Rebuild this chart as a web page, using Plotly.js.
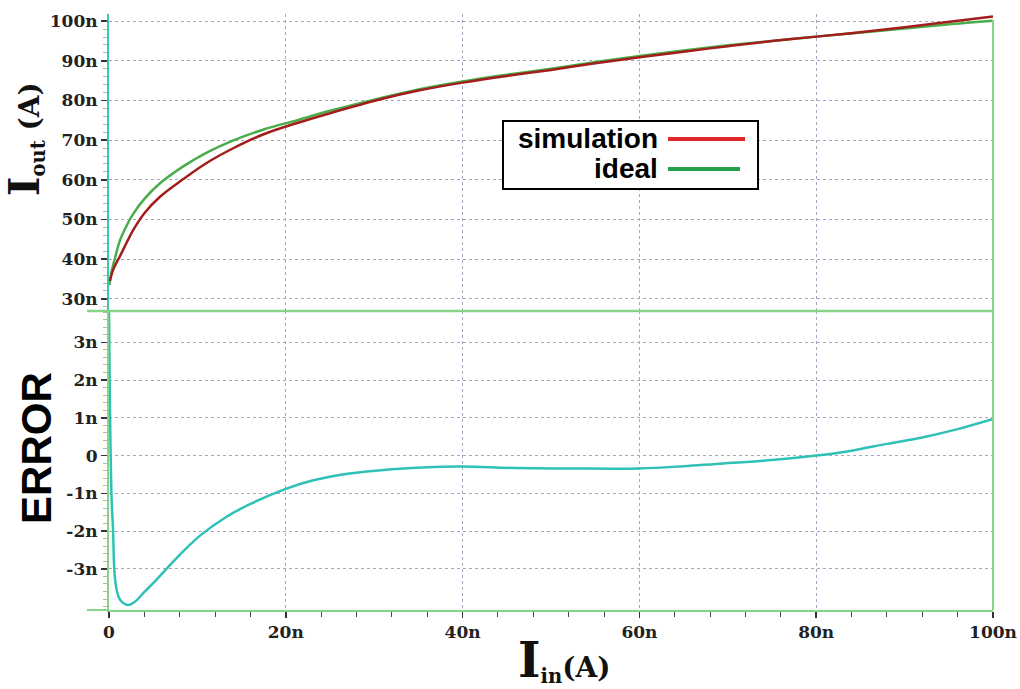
<!DOCTYPE html>
<html>
<head>
<meta charset="utf-8">
<script src="https://cdn.plot.ly/plotly-3.0.1.min.js"></script>
<style>html,body{margin:0;padding:0;background:#fff;}#chart{width:1020px;height:689px;}</style>
</head>
<body>
<div id="chart"></div>
<script>
// Values in nA
const idealX = [0.05, 0.3, 0.7, 1.25, 2, 2.7, 4, 5.8, 8.4, 11, 14, 17.5, 21.4, 25, 30.7, 35, 40, 45, 50, 55, 60, 65, 70, 75, 80, 87, 93, 100];
const idealY = [33.5, 37, 40.5, 44.8, 48.5, 51.3, 55.2, 59.2, 63.4, 66.8, 69.9, 72.7, 75.1, 77.4, 80.6, 82.8, 84.8, 86.5, 88.0, 89.7, 91.2, 92.6, 93.9, 95.0, 96.1, 97.5, 98.8, 100.1];
const simX = [0.1, 0.5, 1.25, 2, 2.7, 4, 5.8, 8.4, 11, 14, 17.5, 21.4, 25, 30.7, 35, 40, 45, 50, 55, 60, 65, 70, 75, 80, 87, 93, 100];
const simY = [34.5, 37.5, 40.8, 44.2, 47.2, 51.6, 55.8, 60.2, 64.2, 67.9, 71.5, 74.4, 76.8, 80.3, 82.5, 84.5, 86.2, 87.7, 89.4, 90.9, 92.3, 93.7, 95.0, 96.1, 97.7, 99.3, 101.2];
const errX = [0, 0.1, 0.3, 0.45, 0.7, 1.2, 2.15, 3, 3.85, 5, 6.5, 7.7, 10.3, 13.3, 16, 20, 23, 27, 32, 36.7, 40, 46, 52, 60, 65, 68.7, 75, 80, 84, 88, 92, 96, 100];
const errY = [3.8, 1.5, -1.2, -1.9, -3.3, -3.8, -3.96, -3.86, -3.65, -3.38, -3.0, -2.7, -2.12, -1.62, -1.28, -0.88, -0.66, -0.48, -0.36, -0.3, -0.29, -0.33, -0.34, -0.34, -0.28, -0.22, -0.12, 0, 0.13, 0.31, 0.48, 0.7, 0.97];

const xTickVals = [0, 20, 40, 60, 80, 100];
const xTickText = ['0', '20n', '40n', '60n', '80n', '100n'];
const topTickVals = [30, 40, 50, 60, 70, 80, 90, 100];
const topTickText = ['30n', '40n', '50n', '60n', '70n', '80n', '90n', '100n'];
const botTickVals = [-3, -2, -1, 0, 1, 2, 3];
const botTickText = ['-3n', '-2n', '-1n', '0', '1n', '2n', '3n'];
const legendNames = ['simulation', 'ideal'];

const tickFont = {family: 'DejaVu Serif', size: 17, color: '#222', weight: 'bold'};
const gridColor = '#a6a6c2';
const lightGreen = '#86d486';
const teal = '#3cc4b4';

const traces = [
  {x: idealX, y: idealY, xaxis: 'x', yaxis: 'y', mode: 'lines', name: legendNames[1],
   line: {color: '#4aad4a', width: 2.5, shape: 'spline', smoothing: 1}},
  {x: simX, y: simY, xaxis: 'x', yaxis: 'y', mode: 'lines', name: legendNames[0],
   line: {color: '#a31d1d', width: 2.5, shape: 'spline', smoothing: 1}},
  {x: errX, y: errY, xaxis: 'x2', yaxis: 'y2', mode: 'lines', name: 'error',
   line: {color: '#2fc1b8', width: 2.5, shape: 'spline', smoothing: 1}}
];

const dom = 0.5017;
const layout = {
  width: 1020, height: 689,
  margin: {l: 109, r: 27, t: 14, b: 79},
  paper_bgcolor: '#fff', plot_bgcolor: '#fff',
  showlegend: false,
  xaxis: {anchor: 'y', domain: [0, 1], range: [0, 100], matches: 'x2',
    tickvals: xTickVals, showticklabels: false, ticks: '',
    showgrid: true, gridcolor: gridColor, griddash: 'dot', gridwidth: 1,
    zeroline: false, showline: false},
  xaxis2: {anchor: 'y2', domain: [0, 1], range: [0, 100],
    tickvals: xTickVals, ticktext: xTickText, tickfont: tickFont,
    ticks: 'outside', ticklen: 6, tickwidth: 1.5, tickcolor: '#333',
    minor: {dtick: 4, tick0: 0, ticks: 'outside', ticklen: 5, tickcolor: '#444', tickwidth: 1, showgrid: false},
    showgrid: true, gridcolor: gridColor, griddash: 'dot', gridwidth: 1,
    zeroline: false, showline: true, linecolor: lightGreen, linewidth: 2},
  yaxis: {domain: [dom, 1], range: [26.95, 101.8], anchor: 'x',
    tickvals: topTickVals, ticktext: topTickText, tickfont: tickFont,
    ticks: 'outside', ticklen: 6, tickwidth: 1.5, tickcolor: '#333',
    minor: {dtick: 2, tick0: 0, ticks: 'outside', ticklen: 4, tickcolor: '#9cc89c', tickwidth: 1, showgrid: false},
    showgrid: true, gridcolor: gridColor, griddash: 'dot', gridwidth: 1,
    zeroline: false, showline: true, linecolor: teal, linewidth: 2},
  yaxis2: {domain: [0, dom], range: [-4.09, 3.83], anchor: 'x2',
    tickvals: botTickVals, ticktext: botTickText, tickfont: tickFont,
    ticks: 'outside', ticklen: 6, tickwidth: 1.5, tickcolor: '#333',
    minor: {dtick: 0.2, tick0: 0, ticks: 'outside', ticklen: 4, tickcolor: '#9cc89c', tickwidth: 1, showgrid: false},
    showgrid: true, gridcolor: gridColor, griddash: 'dot', gridwidth: 1,
    zeroline: false, showline: true, linecolor: lightGreen, linewidth: 2},
  shapes: [
    {type: 'line', xref: 'paper', yref: 'paper', x0: -0.025, x1: 1, y0: dom, y1: dom,
     line: {color: lightGreen, width: 2.5}},
    {type: 'line', xref: 'paper', yref: 'paper', x0: -0.025, x1: 0, y0: 0, y1: 0,
     line: {color: lightGreen, width: 2}},
    {type: 'line', xref: 'paper', yref: 'paper', x0: 1, x1: 1, y0: 0, y1: 0.99,
     line: {color: lightGreen, width: 2}},
    {type: 'rect', xref: 'paper', yref: 'paper', x0: 0.4457, x1: 0.7342, y0: 0.7064, y1: 0.8205,
     line: {color: '#000', width: 2}, fillcolor: '#fff'},
    {type: 'line', xref: 'paper', yref: 'paper', x0: 0.6324, x1: 0.7195, y0: 0.7903, y1: 0.7903,
     line: {color: '#e02626', width: 4}},
    {type: 'line', xref: 'paper', yref: 'paper', x0: 0.6324, x1: 0.7138, y0: 0.740, y1: 0.740,
     line: {color: '#24a046', width: 4}}
  ],
  annotations: [
    {xref: 'paper', yref: 'paper', x: 0.6233, y: 0.7903, xanchor: 'right', yanchor: 'middle',
     text: '<b>' + legendNames[0] + '</b>', showarrow: false,
     font: {family: 'Liberation Sans, Arial, sans-serif', size: 28, color: '#000'}},
    {xref: 'paper', yref: 'paper', x: 0.6233, y: 0.740, xanchor: 'right', yanchor: 'middle',
     text: '<b>' + legendNames[1] + '</b>', showarrow: false,
     font: {family: 'Liberation Sans, Arial, sans-serif', size: 28, color: '#000'}},
    {xref: 'paper', yref: 'paper', x: 0.515, y: -0.135, xanchor: 'center', yanchor: 'bottom',
     text: '<span style="font-size:48px">I</span><sub>in</sub>(A)', showarrow: false,
     font: {family: 'DejaVu Serif', size: 28, color: '#111', weight: 'bold'}},
    {xref: 'paper', yref: 'paper', x: -0.095, y: 0.79, xanchor: 'center', yanchor: 'middle',
     textangle: -90,
     text: '<span style="font-size:42px">I</span><sub>out</sub> (A)', showarrow: false,
     font: {family: 'DejaVu Serif', size: 28, color: '#111', weight: 'bold'}},
    {xref: 'paper', yref: 'paper', x: -0.0814, y: 0.272, xanchor: 'center', yanchor: 'middle',
     textangle: -90,
     text: '<b>ERROR</b>', showarrow: false,
     font: {family: 'Liberation Sans, Arial, sans-serif', size: 42, color: '#000'}}
  ]
};

Plotly.newPlot('chart', traces, layout, {staticPlot: true, displayModeBar: false});
</script>
</body>
</html>
